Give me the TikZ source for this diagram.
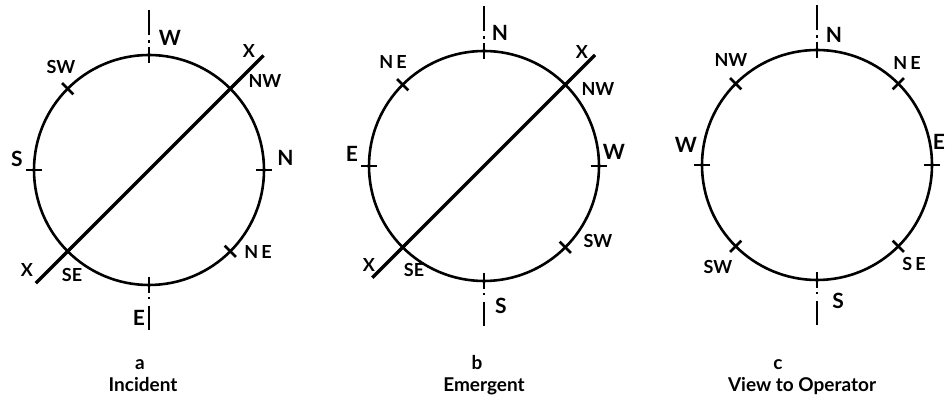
\documentclass[tikz,border=0pt]{standalone}
\usepackage{fontspec}
\setmainfont{Lato}
\begin{document}
\begin{tikzpicture}[x=1pt,y=1pt,line cap=butt,
  ring/.style={circle,draw,line width=2.6pt,minimum size=230pt,inner sep=0pt,outer sep=0pt},
  tick/.style={line width=2.6pt},
  axis/.style={line width=2.2pt},
  diag/.style={line width=3.2pt},
  card/.style={font=\fontsize{21}{21}\selectfont\bfseries,inner sep=0pt},
  inter/.style={font=\fontsize{18}{18}\selectfont\bfseries,inner sep=0pt},
  caption/.style={font=\fontsize{19}{19}\selectfont\bfseries,inner sep=0pt,anchor=base}]
\useasboundingbox (0,0) rectangle (947,398);
% ---------- circles ----------
\node[ring] (ca) at (149,228) {};
\node[ring] (cb) at (484,232) {};
\node[ring] (cc) at (817,233) {};
% ---------- ticks ----------
\foreach \c in {ca,cb,cc}{
  \foreach \t in {0,45,...,315}{
    \draw[tick] ([shift={(\t:107)}]\c.center) -- ([shift={(\t:123)}]\c.center);
  }
  % top axis extension
  \draw[axis] ([shift={(0,135)}]\c.center) -- ([shift={(0,160)}]\c.center);
  \draw[axis] ([shift={(0,127)}]\c.center) -- ([shift={(0,129.5)}]\c.center);
  % bottom axis extension
  \draw[axis] ([shift={(0,-127)}]\c.center) -- ([shift={(0,-129.5)}]\c.center);
  \draw[axis] ([shift={(0,-136)}]\c.center) -- ([shift={(0,-160)}]\c.center);
}
% ---------- diagonals ----------
\coordinate (xa1) at ([shift={(225:160)}]ca.center);
\coordinate (xa2) at ([shift={(45:162)}]ca.center);
\coordinate (xb1) at ([shift={(225:158)}]cb.center);
\coordinate (xb2) at ([shift={(45:157)}]cb.center);
\draw[diag] (xa1) -- (xa2);
\draw[diag] (xb1) -- (xb2);
% ---------- labels a ----------
\node[card]  (aW)  at (170,360) {W};
\node[inter] (aSW) at (61,331) {SW};
\node[inter] (aX1) at (249,347) {X};
\node[inter] (aNW) at (265,317) {NW};
\node[card]  (aS)  at (17,239) {S};
\node[card]  (aN)  at (285.5,240) {N};
\node[inter] (aNE) at (258,146) {N\,E};
\node[inter] (aX2) at (27,128) {X};
\node[inter] (aSE) at (72,123) {SE};
\node[card]  (aE)  at (139,80) {E};
% ---------- labels b ----------
\node[card]  (bN)  at (500,365) {N};
\node[inter] (bNE) at (393,336) {N\,E};
\node[inter] (bX1) at (582,346) {X};
\node[inter] (bNW) at (598,309) {NW};
\node[card]  (bE)  at (352,244) {E};
\node[card]  (bW)  at (614,246) {W};
\node[inter] (bSW) at (598,157) {SW};
\node[inter] (bX2) at (369,133) {X};
\node[inter] (bSE) at (414,128) {SE};
\node[card]  (bS)  at (501,92) {S};
% ---------- labels c ----------
\node[card]  (cN)  at (834,363) {N};
\node[inter] (cNW) at (731,338) {NW};
\node[inter] (cNE) at (907,335) {N\,E};
\node[card]  (cE)  at (939,256) {E};
\node[card]  (cW)  at (686,253) {W};
\node[inter] (cSW) at (718,131) {SW};
\node[inter] (cSE) at (914,134) {S\,E};
\node[card]  (cS)  at (838,97) {S};
% ---------- captions ----------
\node[caption] (la) at (140,28) {a};
\node[caption] (ta) at (143,6) {Incident};
\node[caption] (lb) at (477,28) {b};
\node[caption] (tb) at (484,6) {Emergent};
\node[caption] (lc) at (778,28) {c};
\node[caption] (tc) at (802,6) {View to Operator};
\end{tikzpicture}
\end{document}
